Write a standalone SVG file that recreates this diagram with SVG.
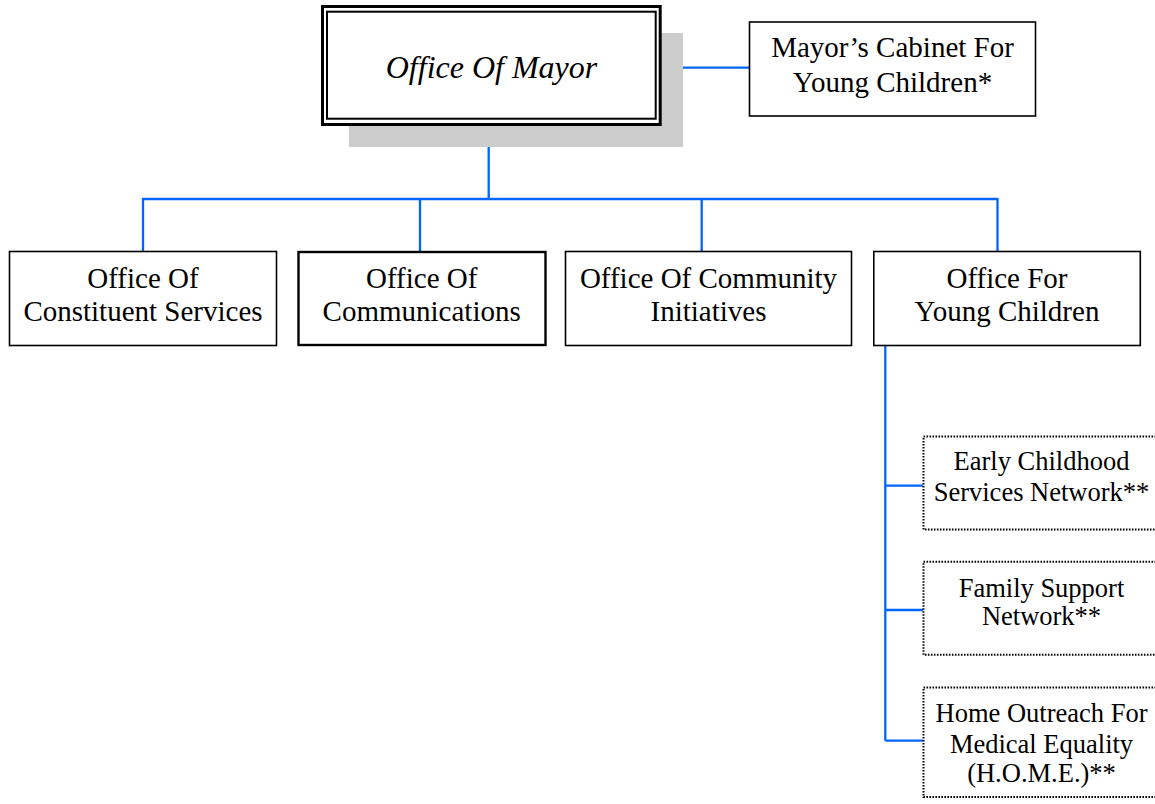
<svg xmlns="http://www.w3.org/2000/svg" width="1155" height="804" viewBox="0 0 1155 804">
<style>
.bx{fill:#fff;stroke:#000;stroke-width:1.6}
.dot{fill:#fff;stroke:#000;stroke-width:2;stroke-dasharray:1.6 1.4}
.t{font-family:"Liberation Serif","Times New Roman",serif;font-size:29px;fill:#000;text-anchor:middle}
.s{font-family:"Liberation Serif","Times New Roman",serif;font-size:26.5px;fill:#000;text-anchor:middle}
.c{fill:none;stroke:#0066ff;stroke-width:2.3}
</style>
<rect width="1155" height="804" fill="#fff"/>
<g id="connectors">
<path class="c" d="M488.7,147V199M143,199H997.5M143,198V251M420,199V251M701.7,199V251M997.5,198V251"/>
<path class="c" d="M683,67.7H749"/>
<path class="c" d="M885.3,345.7V740.7M885.3,485.7H923M885.3,610H923M885.3,740.7H923"/>
</g>
<g id="office-of-mayor">
<rect x="349" y="33" width="334" height="114" fill="#cccccc"/>
<rect x="322.5" y="6.5" width="337.7" height="118" fill="#fff" stroke="#000" stroke-width="3"/>
<rect x="327" y="11.7" width="328.7" height="107" fill="none" stroke="#000" stroke-width="2"/>
<text x="491.5" y="78" class="t" style="font-size:32px;font-style:italic">Office Of Mayor</text>
</g>
<g id="mayors-cabinet">
<rect class="bx" x="749.5" y="22" width="286" height="94"/>
<text x="892.5" y="57" class="t">Mayor’s Cabinet For</text>
<text x="892.5" y="92" class="t">Young Children*</text>
</g>
<g id="constituent-services">
<rect class="bx" x="9.5" y="251.5" width="267" height="94"/>
<text x="143" y="288" class="t">Office Of</text>
<text x="143" y="321" class="t">Constituent Services</text>
</g>
<g id="communications">
<rect class="bx" x="298.5" y="252" width="247" height="93" style="stroke-width:2.4"/>
<text x="421.7" y="288" class="t">Office Of</text>
<text x="421.7" y="321" class="t">Communications</text>
</g>
<g id="community-initiatives">
<rect class="bx" x="565.5" y="251.5" width="286" height="94"/>
<text x="708.5" y="288" class="t">Office Of Community</text>
<text x="708.5" y="321" class="t">Initiatives</text>
</g>
<g id="young-children">
<rect class="bx" x="873.8" y="251.5" width="266.5" height="94"/>
<text x="1007" y="288" class="t">Office For</text>
<text x="1007" y="321" class="t">Young Children</text>
</g>
<g id="early-childhood">
<rect class="dot" x="923.5" y="436.5" width="240" height="93"/>
<text x="1041.5" y="470" class="s">Early Childhood</text>
<text x="1041.5" y="501" class="s">Services Network**</text>
</g>
<g id="family-support">
<rect class="dot" x="923.5" y="561.8" width="240" height="93"/>
<text x="1041.5" y="596.7" class="s">Family Support</text>
<text x="1041.5" y="625" class="s">Network**</text>
</g>
<g id="home">
<rect class="dot" x="923.5" y="687.5" width="240" height="109.5"/>
<text x="1041.5" y="721.7" class="s">Home Outreach For</text>
<text x="1041.5" y="753" class="s">Medical Equality</text>
<text x="1041.5" y="781.7" class="s">(H.O.M.E.)**</text>
</g>
</svg>
